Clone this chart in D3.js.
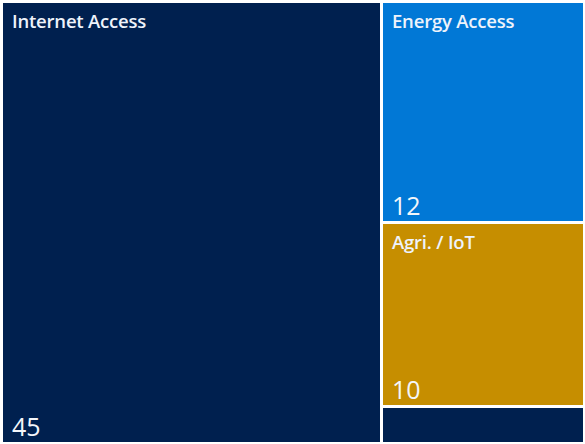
<!DOCTYPE html>
<html>
<head>
<meta charset="utf-8">
<script src="https://cdn.jsdelivr.net/npm/d3@7"></script>
<style>
  body { margin: 0; background: #fff; }
  svg { display: block; }
  .lbl { font-family: "Open Sans", sans-serif; font-weight: 600; fill: #eef3fb; letter-spacing: -0.2px; }
  .num { font-family: "Open Sans", sans-serif; font-weight: 400; fill: #f4f6fa; }
</style>
</head>
<body>
<script>
// treemap data
const names = ["Internet Access", "Energy Access", "Agri. / IoT", ""];
const values = [45, 12, 10, 2];
const colors = ["#00204f", "#0178d6", "#c68e00", "#00204f"];

const width = 585, height = 444;

const svg = d3.select("body").append("svg")
  .attr("width", width)
  .attr("height", height);

const root = d3.hierarchy({
    children: names.map((n, i) => ({ name: n, value: values[i], color: colors[i] }))
  })
  .sum(d => d.value || 0)
  .sort((a, b) => b.value - a.value);

d3.treemap()
  .tile(d3.treemapSquarify)
  .size([580, 439])
  .paddingInner(3)
  .round(true)(root);

const g = svg.append("g").attr("transform", "translate(3,3)");

const cell = g.selectAll("g")
  .data(root.leaves())
  .join("g")
  .attr("transform", d => `translate(${d.x0},${d.y0})`);

cell.append("rect")
  .attr("width", d => d.x1 - d.x0)
  .attr("height", d => d.y1 - d.y0)
  .attr("fill", d => d.data.color);

// only the big cells get labels
cell.filter(d => d.y1 - d.y0 > 60).append("text")
  .attr("class", "lbl")
  .attr("x", 9)
  .attr("y", 25)
  .style("font-size", "18.5px")
  .text(d => d.data.name);

cell.filter(d => d.y1 - d.y0 > 60).append("text")
  .attr("class", "num")
  .attr("x", 9)
  .attr("y", d => d.y1 - d.y0 - 6)
  .style("font-size", "25px")
  .text(d => d.data.value);
</script>
</body>
</html>
